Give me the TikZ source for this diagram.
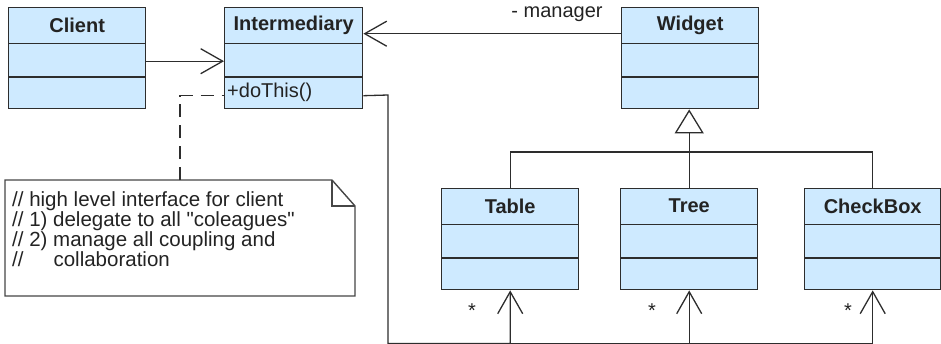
\documentclass[tikz,border=0pt]{standalone}
\usepackage{fontspec}
\setmainfont{Liberation Sans}[Ligatures=TeXOff]
\usetikzlibrary{arrows.meta,calc}
\definecolor{clsfill}{RGB}{206,234,255}
\definecolor{clsdraw}{RGB}{45,45,45}
\definecolor{txt}{RGB}{35,35,35}
\definecolor{notedraw}{RGB}{70,70,70}
\tikzset{
  clsbox/.style={draw=clsdraw, fill=clsfill, line width=1.4pt, inner sep=0pt,
    minimum width=137pt, minimum height=101pt, anchor=north west},
  clstitle/.style={font=\fontsize{20}{22}\selectfont\bfseries, text=txt, inner sep=0pt},
  clsline/.style={draw=clsdraw, line width=1.2pt},
  plaintxt/.style={font=\fontsize{20}{22}\selectfont, text=txt, inner sep=0pt},
  conn/.style={draw=clsdraw, line width=1.3pt},
  assoc/.style={conn, -{Straight Barb[length=22pt,width=25pt,line width=1.3pt]}},
  genarrow/.style={conn, -{Triangle[open,length=24pt,width=29pt,line width=1.3pt]}},
  notelink/.style={conn, dash pattern=on 13pt off 8pt},
  notebox/.style={draw=notedraw, fill=white, line width=1.4pt, line join=miter}
}
\newcommand{\umlcls}[5]{%
  \node[clsbox, minimum width=#5] (#1) at (#2,#3) {};
  \node[clstitle] (#1-t) at ($(#1.north)+(0pt,-18pt)$) {#4};
  \draw[clsline] ([yshift=-36.5pt]#1.north west) -- ([yshift=-36.5pt]#1.north east);
  \draw[clsline] ([yshift=-70pt]#1.north west) -- ([yshift=-70pt]#1.north east);
}
\begin{document}
\begin{tikzpicture}[x=1pt,y=-1pt]
\useasboundingbox (0,0) rectangle (941,343);

% classes
\umlcls{Client}{8}{7}{Client}{137pt}
\umlcls{Inter}{224}{7}{Intermediary}{138pt}
\umlcls{Widget}{621}{7}{Widget}{137pt}
\umlcls{Table}{441}{188}{Table}{137pt}
\umlcls{Tree}{620}{188}{Tree}{137pt}
\umlcls{CheckBox}{804}{188}{CheckBox}{136pt}
\node[plaintxt, anchor=west] (op) at ($(Inter.north west)+(3pt,-85pt)$) {+doThis()};

% note
\draw[notebox] (5,180) -- (332,180) -- (355,206) -- (355,296) -- (5,296) -- cycle;
\draw[notebox, fill=none] (332,180) -- (332,206) -- (355,206);
\node[plaintxt, anchor=north west, align=left, font=\fontsize{20.5}{18.3}\selectfont] (note) at (12,191)
  {// high level interface for client\\// 1) delegate to all "coleagues"\\// 2) manage all coupling and\\//\hspace{30pt}collaboration};
\coordinate (notetop) at (180,180);

% connectors
\draw[assoc] ([yshift=-3pt]Client.east) -- ([yshift=-3pt]Inter.west);
\draw[assoc] ([yshift=24.5pt]Widget.west) -- ([yshift=24.5pt]Inter.east);
\node[plaintxt] (mgr) at (557,14) {- manager};
\draw[notelink] (notetop) |- ([yshift=-37.5pt]Inter.west);

\coordinate (bendA) at (388,95);
\coordinate (bendB) at (388,343.4);
\draw[assoc] ([yshift=-37.5pt]Inter.east) -- (bendA) -- (bendB) -| (Table.south);
\draw[assoc] (bendB) -| (Tree.south);
\draw[assoc] (bendB) -| (CheckBox.south);
\node[plaintxt] (s1) at (472,311) {*};
\node[plaintxt] (s2) at (652,311) {*};
\node[plaintxt] (s3) at (848,311) {*};

% generalization
\coordinate (genj) at (689,152);
\draw[conn] (Table.north) |- (genj) -| (CheckBox.north);
\draw[genarrow] (Tree.north) -- (Tree.north |- Widget.south);
\end{tikzpicture}
\end{document}
